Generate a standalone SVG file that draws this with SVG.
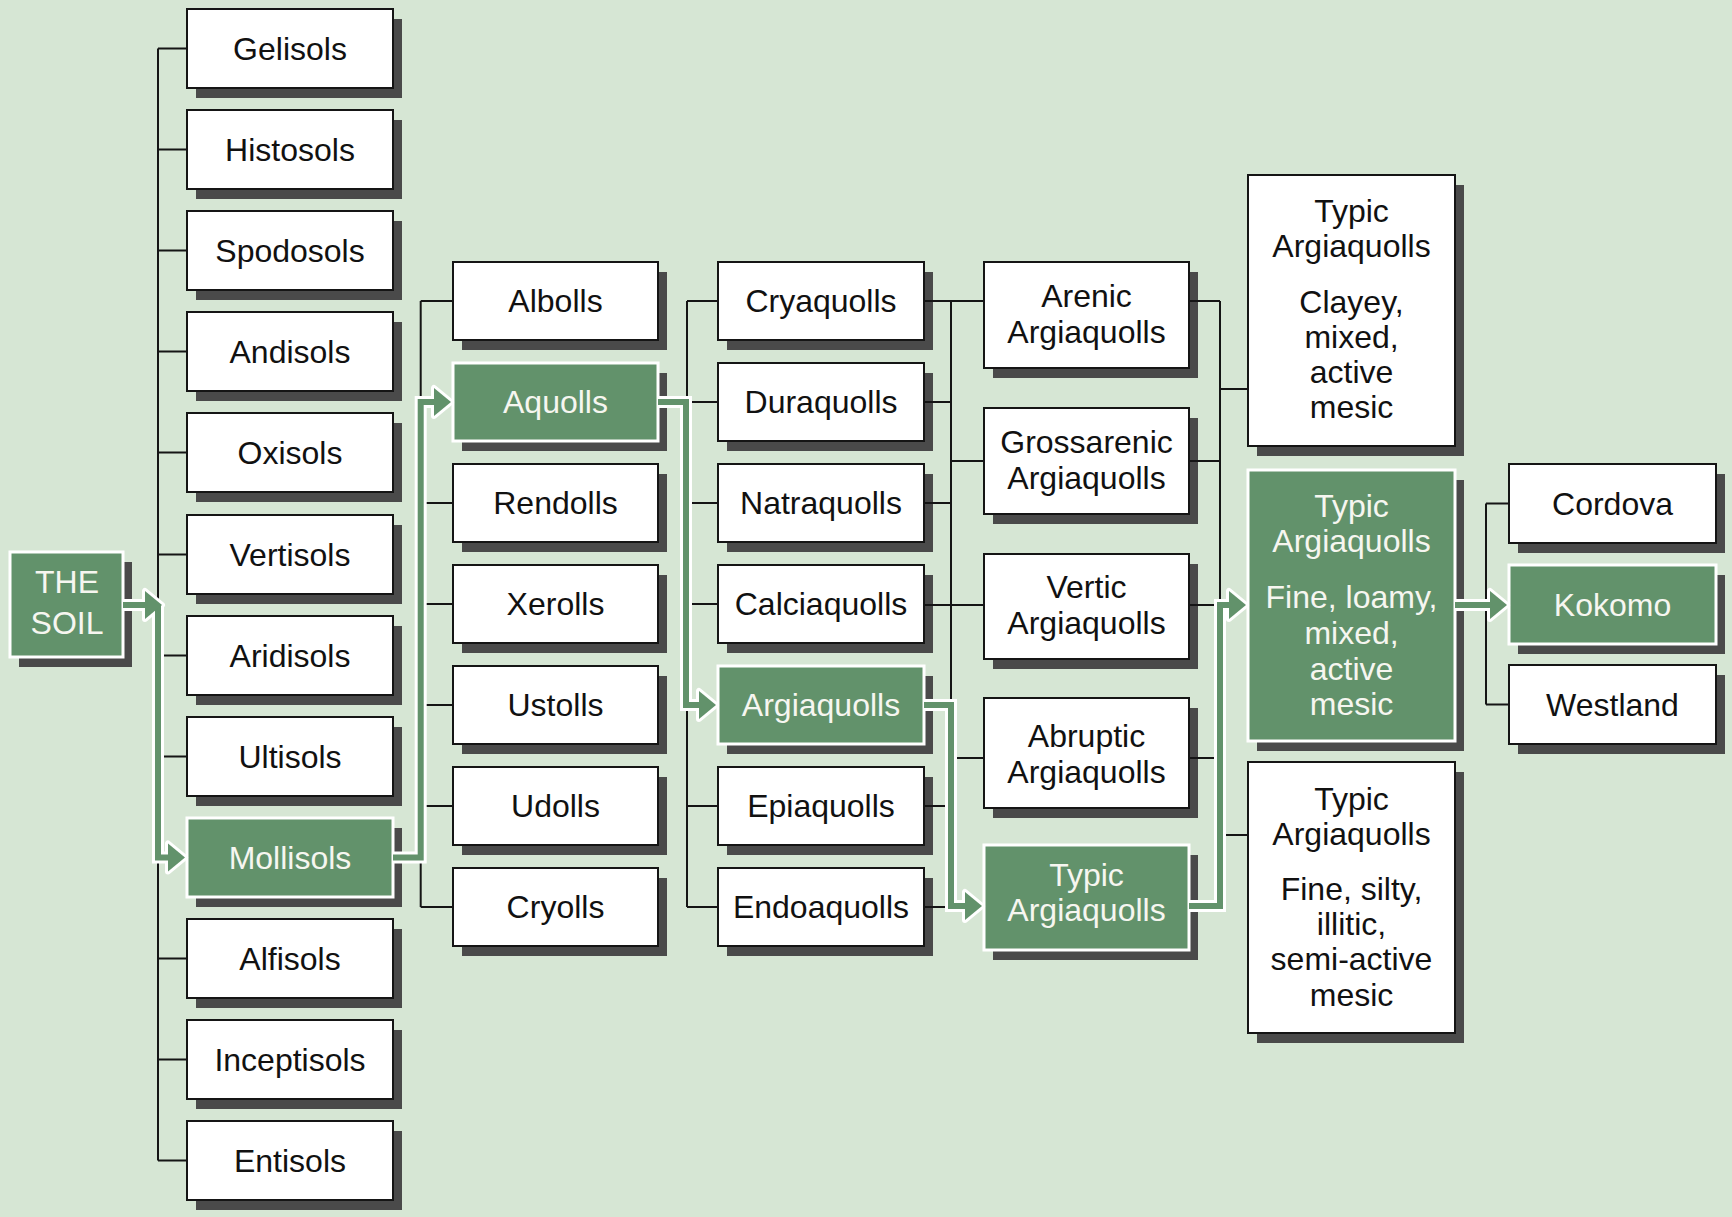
<svg xmlns="http://www.w3.org/2000/svg" width="1732" height="1217" viewBox="0 0 1732 1217">
<defs>
<style>
.bg{fill:#d6e6d4}
.sh{fill:#4a4a4a}
.box{fill:#ffffff;stroke:#151515;stroke-width:2}
.gbox{fill:#62926b;stroke:#ffffff;stroke-width:3}
.t{font-family:"Liberation Sans",Arial,sans-serif;font-size:32px;fill:#111111;text-anchor:middle}
.tw{fill:#f6f6f0}
.ln{stroke:#151515;stroke-width:2;fill:none}
.gw{stroke:#ffffff;stroke-width:12;fill:none;stroke-linejoin:miter}
.gg{stroke:#62926b;stroke-width:6;fill:none;stroke-linejoin:miter}
.aw{fill:#ffffff;stroke:#ffffff;stroke-width:6;stroke-linejoin:round}
.ag{fill:#62926b}
</style>
</defs>
<rect class="bg" x="0" y="0" width="1732" height="1217"/>

<g id="nodes">
<g id="the-soil"><rect class="sh" x="19" y="562" width="113" height="105"/><rect class="gbox" x="10" y="552" width="113" height="105"/><text class="t tw" x="67" y="593">THE</text><text class="t tw" x="67" y="634">SOIL</text></g>

<g id="gelisols"><rect class="sh" x="196" y="19" width="206" height="79"/><rect class="box" x="187" y="9" width="206" height="79"/><text class="t" x="290" y="59.5">Gelisols</text></g>
<g id="histosols"><rect class="sh" x="196" y="120" width="206" height="79"/><rect class="box" x="187" y="110" width="206" height="79"/><text class="t" x="290" y="160.5">Histosols</text></g>
<g id="spodosols"><rect class="sh" x="196" y="221" width="206" height="79"/><rect class="box" x="187" y="211" width="206" height="79"/><text class="t" x="290" y="261.5">Spodosols</text></g>
<g id="andisols"><rect class="sh" x="196" y="322" width="206" height="79"/><rect class="box" x="187" y="312" width="206" height="79"/><text class="t" x="290" y="362.5">Andisols</text></g>
<g id="oxisols"><rect class="sh" x="196" y="423" width="206" height="79"/><rect class="box" x="187" y="413" width="206" height="79"/><text class="t" x="290" y="463.5">Oxisols</text></g>
<g id="vertisols"><rect class="sh" x="196" y="525" width="206" height="79"/><rect class="box" x="187" y="515" width="206" height="79"/><text class="t" x="290" y="565.5">Vertisols</text></g>
<g id="aridisols"><rect class="sh" x="196" y="626" width="206" height="79"/><rect class="box" x="187" y="616" width="206" height="79"/><text class="t" x="290" y="666.5">Aridisols</text></g>
<g id="ultisols"><rect class="sh" x="196" y="727" width="206" height="79"/><rect class="box" x="187" y="717" width="206" height="79"/><text class="t" x="290" y="767.5">Ultisols</text></g>
<g id="mollisols"><rect class="sh" x="196" y="828" width="206" height="79"/><rect class="gbox" x="187" y="818" width="206" height="79"/><text class="t tw" x="290" y="868.5">Mollisols</text></g>
<g id="alfisols"><rect class="sh" x="196" y="929" width="206" height="79"/><rect class="box" x="187" y="919" width="206" height="79"/><text class="t" x="290" y="969.5">Alfisols</text></g>
<g id="inceptisols"><rect class="sh" x="196" y="1030" width="206" height="79"/><rect class="box" x="187" y="1020" width="206" height="79"/><text class="t" x="290" y="1070.5">Inceptisols</text></g>
<g id="entisols"><rect class="sh" x="196" y="1131" width="206" height="79"/><rect class="box" x="187" y="1121" width="206" height="79"/><text class="t" x="290" y="1171.5">Entisols</text></g>

<g id="albolls"><rect class="sh" x="462" y="272" width="205" height="78"/><rect class="box" x="453" y="262" width="205" height="78"/><text class="t" x="555.5" y="312">Albolls</text></g>
<g id="aquolls"><rect class="sh" x="462" y="373" width="205" height="78"/><rect class="gbox" x="453" y="363" width="205" height="78"/><text class="t tw" x="555.5" y="413">Aquolls</text></g>
<g id="rendolls"><rect class="sh" x="462" y="474" width="205" height="78"/><rect class="box" x="453" y="464" width="205" height="78"/><text class="t" x="555.5" y="514">Rendolls</text></g>
<g id="xerolls"><rect class="sh" x="462" y="575" width="205" height="78"/><rect class="box" x="453" y="565" width="205" height="78"/><text class="t" x="555.5" y="615">Xerolls</text></g>
<g id="ustolls"><rect class="sh" x="462" y="676" width="205" height="78"/><rect class="box" x="453" y="666" width="205" height="78"/><text class="t" x="555.5" y="716">Ustolls</text></g>
<g id="udolls"><rect class="sh" x="462" y="777" width="205" height="78"/><rect class="box" x="453" y="767" width="205" height="78"/><text class="t" x="555.5" y="817">Udolls</text></g>
<g id="cryolls"><rect class="sh" x="462" y="878" width="205" height="78"/><rect class="box" x="453" y="868" width="205" height="78"/><text class="t" x="555.5" y="918">Cryolls</text></g>

<g id="cryaquolls"><rect class="sh" x="727" y="272" width="206" height="78"/><rect class="box" x="718" y="262" width="206" height="78"/><text class="t" x="821" y="312">Cryaquolls</text></g>
<g id="duraquolls"><rect class="sh" x="727" y="373" width="206" height="78"/><rect class="box" x="718" y="363" width="206" height="78"/><text class="t" x="821" y="413">Duraquolls</text></g>
<g id="natraquolls"><rect class="sh" x="727" y="474" width="206" height="78"/><rect class="box" x="718" y="464" width="206" height="78"/><text class="t" x="821" y="514">Natraquolls</text></g>
<g id="calciaquolls"><rect class="sh" x="727" y="575" width="206" height="78"/><rect class="box" x="718" y="565" width="206" height="78"/><text class="t" x="821" y="615">Calciaquolls</text></g>
<g id="argiaquolls"><rect class="sh" x="727" y="676" width="206" height="78"/><rect class="gbox" x="718" y="666" width="206" height="78"/><text class="t tw" x="821" y="716">Argiaquolls</text></g>
<g id="epiaquolls"><rect class="sh" x="727" y="777" width="206" height="78"/><rect class="box" x="718" y="767" width="206" height="78"/><text class="t" x="821" y="817">Epiaquolls</text></g>
<g id="endoaquolls"><rect class="sh" x="727" y="878" width="206" height="78"/><rect class="box" x="718" y="868" width="206" height="78"/><text class="t" x="821" y="918">Endoaquolls</text></g>

<g id="arenic"><rect class="sh" x="993" y="272" width="205" height="106"/><rect class="box" x="984" y="262" width="205" height="106"/><text class="t" x="1086.5" y="307">Arenic</text><text class="t" x="1086.5" y="343">Argiaquolls</text></g>
<g id="grossarenic"><rect class="sh" x="993" y="418" width="205" height="106"/><rect class="box" x="984" y="408" width="205" height="106"/><text class="t" x="1086.5" y="453">Grossarenic</text><text class="t" x="1086.5" y="489">Argiaquolls</text></g>
<g id="vertic"><rect class="sh" x="993" y="564" width="205" height="105"/><rect class="box" x="984" y="554" width="205" height="105"/><text class="t" x="1086.5" y="598">Vertic</text><text class="t" x="1086.5" y="634">Argiaquolls</text></g>
<g id="abruptic"><rect class="sh" x="993" y="708" width="205" height="110"/><rect class="box" x="984" y="698" width="205" height="110"/><text class="t" x="1086.5" y="747">Abruptic</text><text class="t" x="1086.5" y="783">Argiaquolls</text></g>
<g id="typic"><rect class="sh" x="993" y="855" width="205" height="105"/><rect class="gbox" x="984" y="845" width="205" height="105"/><text class="t tw" x="1086.5" y="886">Typic</text><text class="t tw" x="1086.5" y="921">Argiaquolls</text></g>

<g id="typic-clayey"><rect class="sh" x="1257" y="185" width="207" height="271"/><rect class="box" x="1248" y="175" width="207" height="271"/>
<text class="t" x="1351.5" y="222">Typic</text><text class="t" x="1351.5" y="257">Argiaquolls</text><text class="t" x="1351.5" y="313">Clayey,</text><text class="t" x="1351.5" y="348">mixed,</text><text class="t" x="1351.5" y="383">active</text><text class="t" x="1351.5" y="418">mesic</text></g>
<g id="typic-loamy"><rect class="sh" x="1257" y="480" width="207" height="271"/><rect class="gbox" x="1248" y="470" width="207" height="271"/>
<text class="t tw" x="1351.5" y="517">Typic</text><text class="t tw" x="1351.5" y="552">Argiaquolls</text><text class="t tw" x="1351.5" y="608">Fine, loamy,</text><text class="t tw" x="1351.5" y="644">mixed,</text><text class="t tw" x="1351.5" y="680">active</text><text class="t tw" x="1351.5" y="715">mesic</text></g>
<g id="typic-silty"><rect class="sh" x="1257" y="772" width="207" height="271"/><rect class="box" x="1248" y="762" width="207" height="271"/>
<text class="t" x="1351.5" y="810">Typic</text><text class="t" x="1351.5" y="845">Argiaquolls</text><text class="t" x="1351.5" y="900">Fine, silty,</text><text class="t" x="1351.5" y="935">illitic,</text><text class="t" x="1351.5" y="970">semi-active</text><text class="t" x="1351.5" y="1006">mesic</text></g>

<g id="cordova"><rect class="sh" x="1518" y="474" width="207" height="79"/><rect class="box" x="1509" y="464" width="207" height="79"/><text class="t" x="1612.5" y="515">Cordova</text></g>
<g id="kokomo"><rect class="sh" x="1518" y="575" width="207" height="79"/><rect class="gbox" x="1509" y="565" width="207" height="79"/><text class="t tw" x="1612.5" y="616">Kokomo</text></g>
<g id="westland"><rect class="sh" x="1518" y="675" width="207" height="79"/><rect class="box" x="1509" y="665" width="207" height="79"/><text class="t" x="1612.5" y="716">Westland</text></g>
</g>

<g id="connectors">
<path class="ln" d="M158,48.5V1160.5 M158,48.5H187 M158,149.5H187 M158,250.5H187 M158,351.5H187 M158,452.5H187 M158,554.5H187 M158,655.5H187 M158,756.5H187 M158,958.5H187 M158,1059.5H187 M158,1160.5H187"/>
<path class="ln" d="M420.7,301V907 M420.7,301H453 M420.7,503H453 M420.7,604H453 M420.7,705H453 M420.7,806H453 M420.7,907H453"/>
<path class="ln" d="M687,301V907 M687,301H718 M687,402H718 M687,503H718 M687,604H718 M687,806H718 M687,907H718"/>
<path class="ln" d="M951,301V907 M924,301H984 M924,402H951 M924,503H951 M924,605H984 M924,806H951 M924,907H951 M951,461H984 M951,758H984"/>
<path class="ln" d="M1220,301V906 M1189,301H1220 M1189,461H1220 M1189,605H1220 M1189,758H1220 M1220,389H1248 M1220,835H1248"/>
<path class="ln" d="M1486,503.5V704.5 M1486,503.5H1509 M1486,704.5H1509"/>

<g id="highlight-path">
<path class="gw" d="M123,605H148 M158,605V857.5H170 M393,857.5H420.7V402H436 M658,402H686V705H701 M924,705H951V906H967 M1189,906H1220V605H1231 M1455,605H1492"/>
<polygon class="aw" points="162,605 145,591 145,619"/>
<polygon class="aw" points="185,857.5 168,843.5 168,871.5"/>
<polygon class="aw" points="451,402 434,388 434,416"/>
<polygon class="aw" points="716,705 699,691 699,719"/>
<polygon class="aw" points="982,906 965,892 965,920"/>
<polygon class="aw" points="1246,605 1229,591 1229,619"/>
<polygon class="aw" points="1507,605 1490,591 1490,619"/>
<path class="gg" d="M123,605H148 M158,605V857.5H170 M393,857.5H420.7V402H436 M658,402H686V705H701 M924,705H951V906H967 M1189,906H1220V605H1231 M1455,605H1492"/>
<polygon class="ag" points="162,605 145,591 145,619"/>
<polygon class="ag" points="185,857.5 168,843.5 168,871.5"/>
<polygon class="ag" points="451,402 434,388 434,416"/>
<polygon class="ag" points="716,705 699,691 699,719"/>
<polygon class="ag" points="982,906 965,892 965,920"/>
<polygon class="ag" points="1246,605 1229,591 1229,619"/>
<polygon class="ag" points="1507,605 1490,591 1490,619"/>
</g>
</g>
</svg>
